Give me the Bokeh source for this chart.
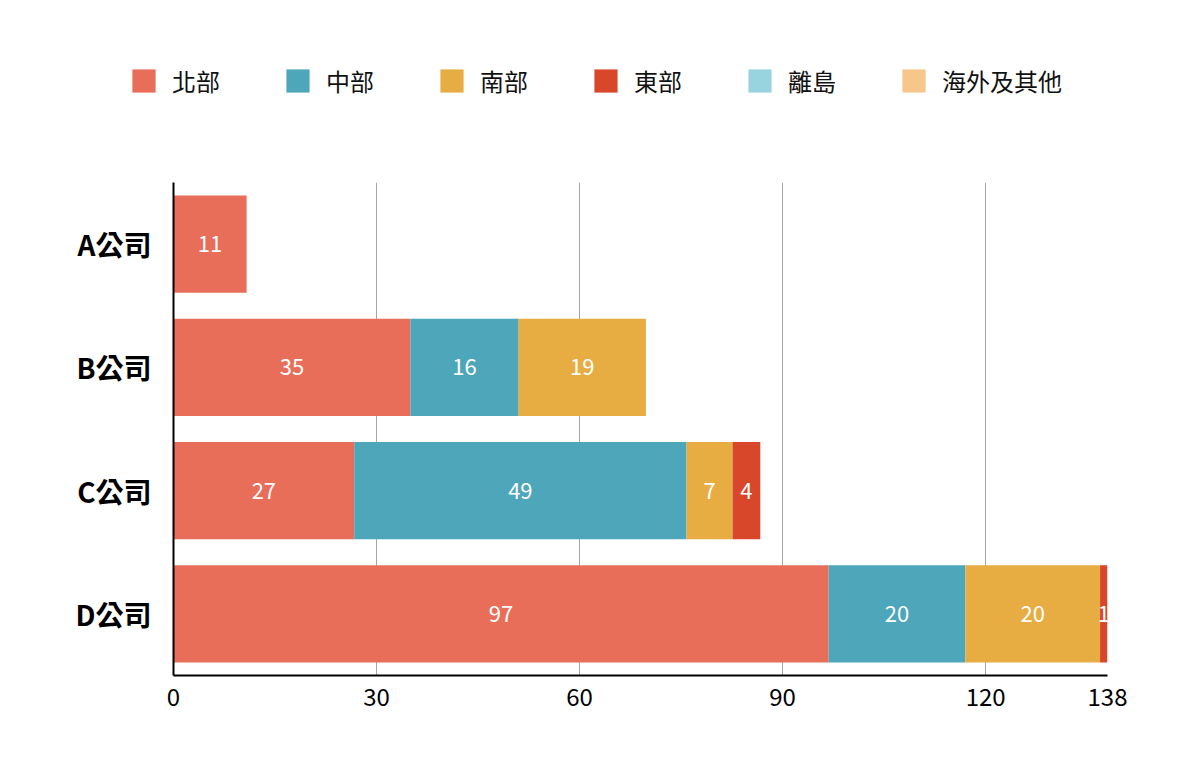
from bokeh.plotting import figure
from bokeh.layouts import column
from bokeh.models import (ColumnDataSource, FactorRange, Range1d, FixedTicker,
                          Legend, LegendItem)
from bokeh.core.properties import value
from bokeh.embed import file_html
from bokeh.resources import INLINE

FONT = "Noto Sans CJK TC"

# data (top to bottom: A, B, C, D)
companies = ["A公司", "B公司", "C公司", "D公司"]
regions = ["北部", "中部", "南部", "東部", "離島", "海外及其他"]
north = [10.8, 35.0, 26.7, 96.8]
central = [0, 16.0, 49.1, 20.2]
south = [0, 18.8, 6.8, 19.9]
east = [0, 0, 4.1, 1.1]
island = [0, 0, 0, 0]
overseas = [0, 0, 0, 0]
colors = ["#E86E5A", "#4EA6BA", "#E8AD42", "#D9472B", "#97D4E0", "#F6C68A"]
x_ticks = [0, 30, 60, 90, 120, 138]

series = [north, central, south, east, island, overseas]
data = {"company": companies}
for name, vals in zip(regions, series):
    data[name] = vals
src = ColumnDataSource(data)

# --- legend strip on top (own figure so the legend is not clipped) ---
top = figure(width=1184, height=130, x_range=Range1d(0, 1), y_range=Range1d(0, 1),
             output_backend="svg", toolbar_location=None,
             x_axis_location=None, y_axis_location=None,
             min_border=0)
top.frame_align = False
top.grid.visible = False
top.outline_line_color = None
# zero-height bars, only there to give the legend its swatches
dummies = [top.vbar(x=[0], top=[0], width=0, color=c, line_color=None) for c in colors]
# area swatches are drawn inset by 10%, so glyph box 29 -> ~23px square
legend = Legend(items=[LegendItem(label=name, renderers=[r])
                       for name, r in zip(regions, dummies)],
                orientation="horizontal", location=(129, 32),
                padding=0, margin=0, spacing=63, label_standoff=14,
                glyph_width=29, glyph_height=29,
                border_line_color=None, background_fill_alpha=0,
                label_text_font=FONT, label_text_font_size="24px",
                label_text_color="#111111")
top.add_layout(legend)

# --- main chart ---
p = figure(
    y_range=FactorRange(factors=companies[::-1], range_padding=0),
    x_range=Range1d(0, 138),
    width=1184, height=635,
    output_backend="svg", toolbar_location=None,
    min_border_left=173, min_border_right=77,
    min_border_top=52, min_border_bottom=90,
)
p.frame_align = False

p.hbar_stack(regions, y="company", height=0.79, color=colors,
             line_color=None, source=src)

# value labels centred in each segment
lx, ly, lt = [], [], []
for i, comp in enumerate(companies):
    left = 0
    for vals in series:
        v = vals[i]
        if v > 0:
            lx.append(left + v / 2)
            ly.append(comp)
            lt.append(str(int(round(v))))
        left += v
p.text(x=lx, y=ly, text=lt, text_color="white", text_font=value(FONT),
       text_font_size="22px", text_align="center", text_baseline="middle")

p.outline_line_color = None
p.ygrid.grid_line_color = None
p.xgrid.grid_line_color = "#A6A6A6"
p.xgrid.grid_line_width = 1
p.xaxis.ticker = FixedTicker(ticks=x_ticks)

for ax in (p.xaxis[0], p.yaxis[0]):
    ax.axis_line_color = "black"
    ax.axis_line_width = 2
    ax.major_tick_line_color = None
    ax.minor_tick_line_color = None
    ax.major_tick_out = 0
    ax.major_tick_in = 0
    ax.major_label_text_font = FONT
    ax.major_label_text_color = "black"

p.xaxis.major_label_text_font_size = "24px"
p.xaxis.major_label_standoff = 12
p.yaxis.major_label_text_font_size = "28px"
p.yaxis.major_label_text_font_style = "bold"
p.yaxis.major_label_standoff = 22

layout = column(top, p, spacing=0)
open("out.html", "w").write(file_html(layout, INLINE))
